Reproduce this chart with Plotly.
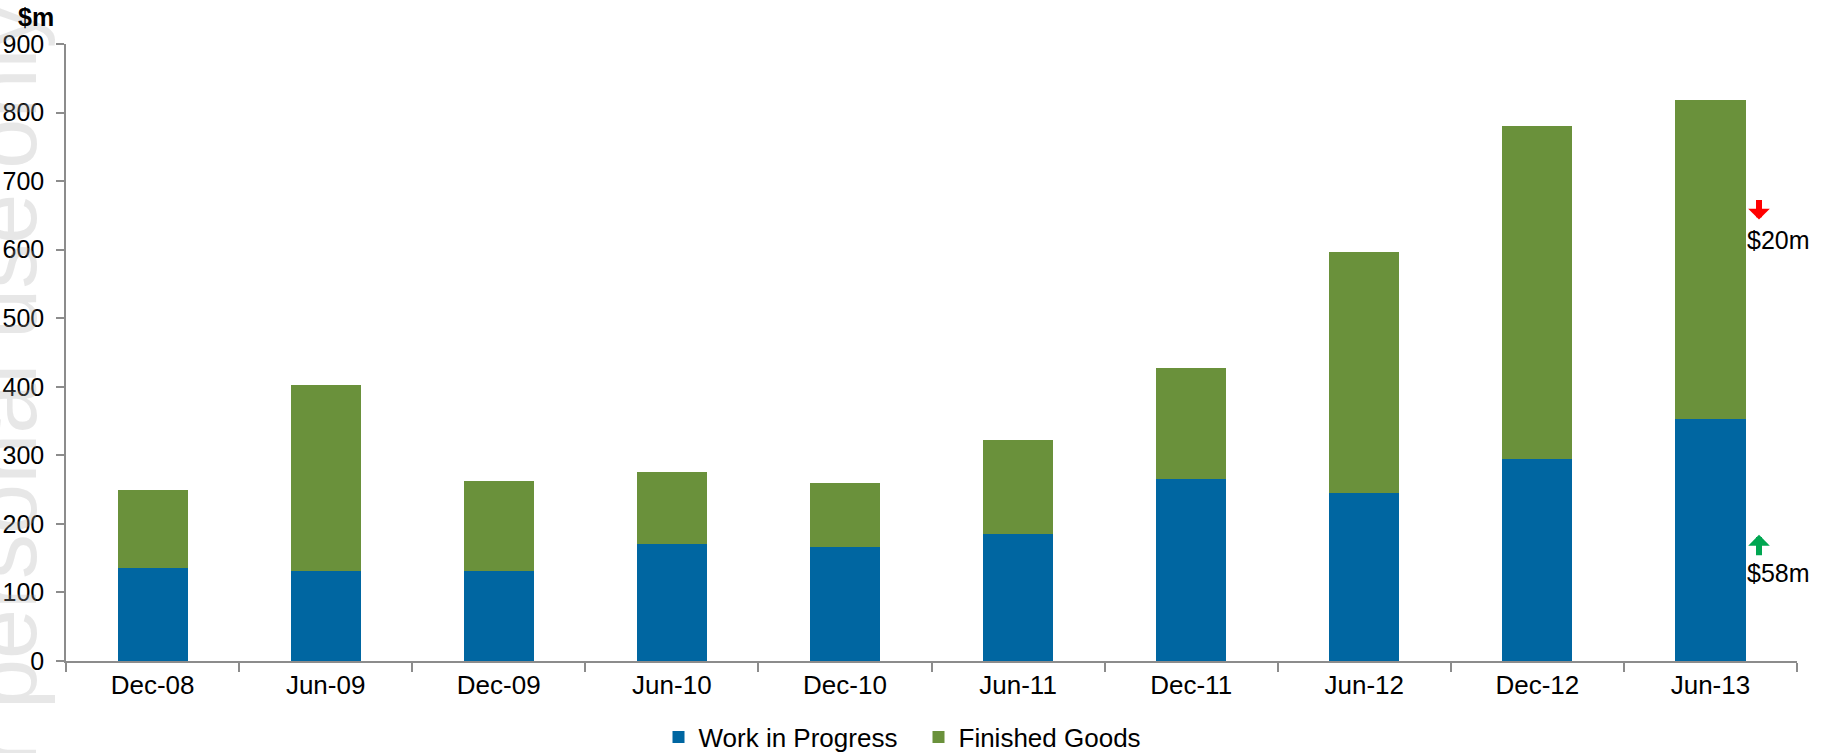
import plotly.graph_objects as go

categories = ["Dec-08", "Jun-09", "Dec-09", "Jun-10", "Dec-10", "Jun-11",
              "Dec-11", "Jun-12", "Dec-12", "Jun-13"]
work_in_progress = [135, 131, 131, 170, 167, 185, 265, 245, 295, 353]
finished_goods = [115, 272, 131, 106, 92, 138, 162, 352, 485, 465]
y_ticks = [0, 100, 200, 300, 400, 500, 600, 700, 800, 900]

BLUE = "#0066A1"
GREEN = "#6A913B"
FONT = "Liberation Sans, Arial, sans-serif"

L, R, T, B = 66, 24, 44, 92
W, H = 1821, 753
PW, PH = W - L - R, H - T - B


def px_x(x):
    return (x - L) / PW


def px_y(y):
    return (H - B - y) / PH


fig = go.Figure()
fig.add_trace(go.Bar(name="Work in Progress", x=categories, y=work_in_progress,
                     marker=dict(color=BLUE, line=dict(width=0))))
fig.add_trace(go.Bar(name="Finished Goods", x=categories, y=finished_goods,
                     marker=dict(color=GREEN, line=dict(width=0))))

fig.update_layout(
    width=W, height=H,
    barmode="stack", bargap=0.595,
    paper_bgcolor="white", plot_bgcolor="white",
    margin=dict(l=L, r=R, t=T, b=B, autoexpand=False),
    font=dict(family=FONT, size=26, color="black"),
    showlegend=True,
    legend=dict(orientation="h", x=0.5 - 13 / PW, xanchor="center", yref="container",
                y=(H - 737) / H, yanchor="middle",
                font=dict(size=26), itemclick=False, traceorder="normal",
                entrywidth=215, itemwidth=30),
    xaxis=dict(showline=True, linecolor="#8c8c8c", linewidth=1.5,
               ticks="outside", tickson="boundaries", ticklen=9, tickcolor="#8c8c8c",
               tickwidth=1.5, showgrid=False, tickfont=dict(size=26), automargin=False),
    yaxis=dict(range=[0, 900], tickvals=y_ticks, showline=True, linecolor="#8c8c8c",
               linewidth=1.5, ticks="outside", ticklen=8, tickcolor="#8c8c8c",
               tickwidth=1.5, showgrid=False, zeroline=False, tickfont=dict(size=25),
               ticklabelstandoff=7, automargin=False),
)

# watermark
fig.add_annotation(text="For personal use only", textangle=-90, xref="paper", yref="paper",
                   x=px_x(5), y=px_y(437), xanchor="center", yanchor="middle",
                   showarrow=False, font=dict(size=90, family=FONT, color="rgba(170,170,170,0.28)"))

# unit label
fig.add_annotation(text="<b>$m</b>", xref="paper", yref="paper",
                   x=px_x(36), y=px_y(17), xanchor="center", yanchor="middle",
                   showarrow=False, font=dict(size=25))

# change annotations
fig.add_annotation(text="$20m", xref="paper", yref="y", x=px_x(1745), y=614,
                   xanchor="left", yanchor="middle", showarrow=False, font=dict(size=25))
fig.add_annotation(text="$58m", xref="paper", yref="y", x=px_x(1745), y=129,
                   xanchor="left", yanchor="middle", showarrow=False, font=dict(size=25))
fig.add_annotation(text="", xref="paper", yref="y", x=px_x(1759), y=644,
                   ax=0, ay=-21, showarrow=True, arrowhead=1, arrowsize=0.6, arrowwidth=6,
                   arrowcolor="#FF0000", standoff=0)
fig.add_annotation(text="", xref="paper", yref="y", x=px_x(1759), y=184,
                   ax=0, ay=22, showarrow=True, arrowhead=1, arrowsize=0.6, arrowwidth=6,
                   arrowcolor="#00A651", standoff=0)

fig.write_html("out.html", config={"displayModeBar": False},
               post_script="document.body.style.margin='0';document.body.style.overflow='hidden';")
